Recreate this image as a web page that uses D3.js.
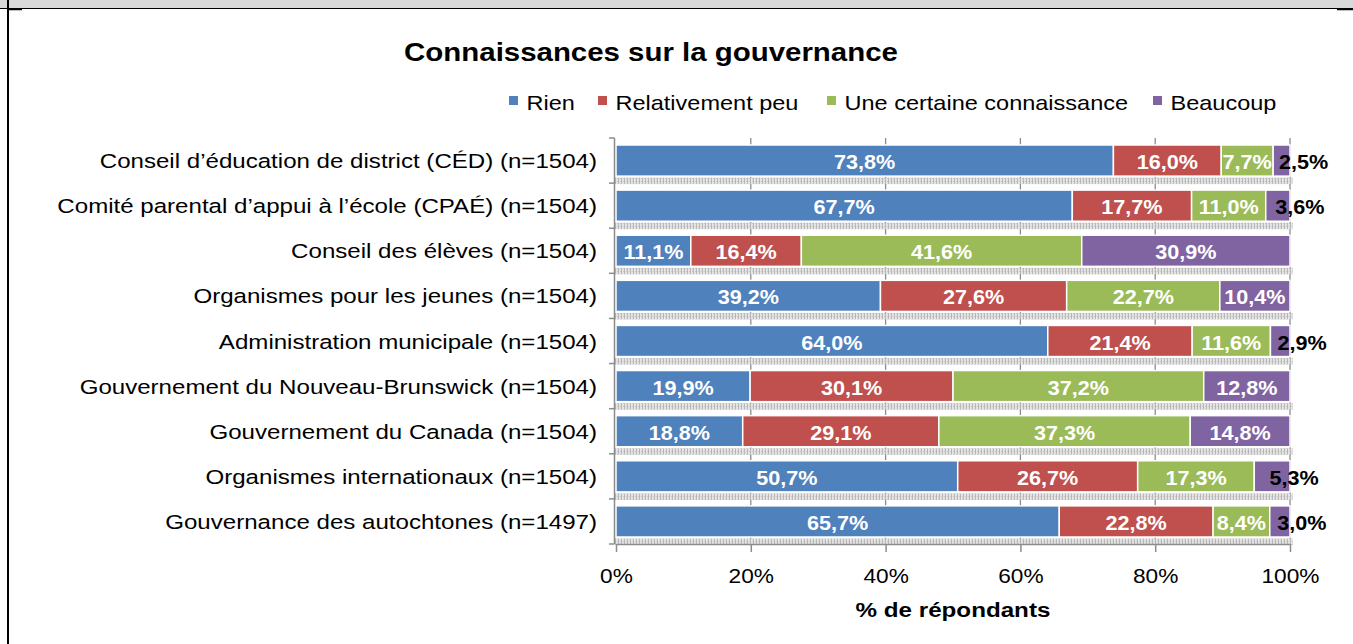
<!DOCTYPE html>
<html>
<head>
<meta charset="utf-8">
<script src="https://cdn.jsdelivr.net/npm/d3@7"></script>
<style>
  body { margin: 0; background: #fff; }
  svg { display: block; font-family: "Liberation Sans", Arial, sans-serif; }
</style>
</head>
<body>
<div class="bar_chart"></div>
<script>
// categories (top to bottom)
const categories = [
  "Conseil d’éducation de district (CÉD) (n=1504)",
  "Comité parental d’appui à l’école (CPAÉ) (n=1504)",
  "Conseil des élèves (n=1504)",
  "Organismes pour les jeunes (n=1504)",
  "Administration municipale (n=1504)",
  "Gouvernement du Nouveau-Brunswick (n=1504)",
  "Gouvernement du Canada (n=1504)",
  "Organismes internationaux (n=1504)",
  "Gouvernance des autochtones (n=1497)"
];
const seriesNames = ["Rien", "Relativement peu", "Une certaine connaissance", "Beaucoup"];
const seriesColors = ["#4F81BD", "#C0504D", "#9BBB59", "#8064A2"];

// series values, %
const rien       = [73.8, 67.7, 11.1, 39.2, 64.0, 19.9, 18.8, 50.7, 65.7];
const relPeu     = [16.0, 17.7, 16.4, 27.6, 21.4, 30.1, 29.1, 26.7, 22.8];
const certaine   = [7.7, 11.0, 41.6, 22.7, 11.6, 37.2, 37.3, 17.3, 8.4];
const beaucoup   = [2.5, 3.6, 30.9, 10.4, 2.9, 12.8, 14.8, 5.3, 3.0];

const xTicks = [0, 0.2, 0.4, 0.6, 0.8, 1];

const width = 1353, height = 644;
const plot = { left: 616, right: 1290, top: 138, bottom: 544 };

const svg = d3.select(".bar_chart").append("svg")
  .attr("width", width)
  .attr("height", height)
  .attr("viewBox", [0, 0, width, height]);

// text in the picture is a bit wider than the font, so stretch it
const place = (sel, fx, fy, sx) =>
  sel.attr("transform", function(d, i) { return `translate(${fx(d, i)},${fy(d, i)}) scale(${sx},1)`; });

// frame (grey strip at top, black borders)
svg.append("rect").attr("x", 0).attr("y", 0).attr("width", width).attr("height", 8).attr("fill", "#d9d9d9");
svg.append("line").attr("x1", 0).attr("x2", width).attr("y1", 8.5).attr("y2", 8.5).attr("stroke", "#000").attr("stroke-width", 1.2);
svg.append("line").attr("x1", 8).attr("x2", 8).attr("y1", 0).attr("y2", height).attr("stroke", "#000").attr("stroke-width", 2);
svg.append("line").attr("x1", 8).attr("x2", 22).attr("y1", 9.5).attr("y2", 9.5).attr("stroke", "#000").attr("stroke-width", 1.5);
svg.append("line").attr("x1", 1337).attr("x2", width).attr("y1", 9.5).attr("y2", 9.5).attr("stroke", "#000").attr("stroke-width", 1.5);

// texture for bar shadows
const defs = svg.append("defs");
const pat = defs.append("pattern").attr("id", "shade")
  .attr("width", 3).attr("height", 3).attr("patternUnits", "userSpaceOnUse");
pat.append("rect").attr("width", 3).attr("height", 3).attr("fill", "#e4e4e4");
pat.append("rect").attr("width", 1).attr("height", 3).attr("fill", "#b8b8b8");
pat.append("rect").attr("x", 2).attr("y", 1).attr("width", 1).attr("height", 1).attr("fill", "#c8c8c8");

// data table
const data = categories.map((c, i) => ({
  cat: c, values: [rien[i], relPeu[i], certaine[i], beaucoup[i]]
}));

const x = d3.scaleLinear().domain([0, 1]).range([plot.left, plot.right]);
const y = d3.scaleBand().domain(categories).range([plot.top, plot.bottom]).paddingInner(0.31).paddingOuter(0.155);

// title
place(svg.append("text").datum(0), () => 651, () => 61, 1.177)
  .attr("text-anchor", "middle")
  .attr("font-size", 25).attr("font-weight", "bold")
  .text("Connaissances sur la gouvernance");

// legend
const legendX = [509, 598, 827, 1153];
const legend = svg.append("g").selectAll("g").data(seriesNames).join("g")
  .attr("transform", (d, i) => `translate(${legendX[i]},110)`);
legend.append("rect").attr("x", 0).attr("y", -14).attr("width", 9).attr("height", 9)
  .attr("fill", (d, i) => seriesColors[i]);
legend.append("text").attr("transform", "translate(17.5,0) scale(1.12,1)")
  .attr("font-size", 21).text(d => d);

// gridlines
svg.append("g").selectAll("line").data(xTicks.slice(1)).join("line")
  .attr("x1", d => x(d)).attr("x2", d => x(d))
  .attr("y1", plot.top).attr("y2", plot.bottom)
  .attr("stroke", "#8c8c8c").attr("stroke-width", 1.3);

// shadows below bars
svg.append("g").selectAll("rect").data(data).join("rect")
  .attr("x", plot.left - 1).attr("y", d => y(d.cat) + y.bandwidth() + 1.5)
  .attr("width", plot.right - plot.left + 4).attr("height", 6.5)
  .attr("fill", "url(#shade)");

// stacked segments
const rows = svg.append("g").selectAll("g").data(data).join("g")
  .attr("transform", d => `translate(0,${y(d.cat)})`);

rows.each(function(d) {
  const total = d3.sum(d.values);
  let acc = 0;
  const segs = d.values.map((v, k) => {
    const s = { v, k, x0: acc / total, x1: (acc + v) / total };
    acc += v;
    return s;
  });
  const g = d3.select(this);
  g.selectAll("rect").data(segs).join("rect")
    .attr("x", s => x(s.x0)).attr("y", 0)
    .attr("width", s => x(s.x1) - x(s.x0))
    .attr("height", y.bandwidth())
    .attr("fill", s => seriesColors[s.k])
    .attr("stroke", "#fff").attr("stroke-width", 1.5);
  place(g.selectAll("text").data(segs).join("text"),
      s => {
        const cx = (x(s.x0) + x(s.x1)) / 2;
        return s.v < 6 ? cx + 22 : cx;
      },
      () => y.bandwidth() / 2 + 8.5, 1.08)
    .attr("text-anchor", "middle")
    .attr("font-size", 20).attr("font-weight", "bold")
    .attr("fill", s => s.v < 6 ? "#000" : "#fff")
    .text(s => d3.format(".1f")(s.v).replace(".", ",") + "%");
});

// left axis
const yAxis = svg.append("g");
yAxis.append("line").attr("x1", plot.left - 1.5).attr("x2", plot.left - 1.5)
  .attr("y1", plot.top).attr("y2", plot.bottom).attr("stroke", "#8c8c8c").attr("stroke-width", 1.5);
const bounds = d3.range(categories.length + 1).map(i => plot.top + i * (plot.bottom - plot.top) / categories.length);
yAxis.selectAll("line.tick").data(bounds).join("line").attr("class", "tick")
  .attr("x1", plot.left - 7).attr("x2", plot.left - 1.5)
  .attr("y1", d => d).attr("y2", d => d)
  .attr("stroke", "#8c8c8c").attr("stroke-width", 1.5);
place(yAxis.selectAll("text").data(categories).join("text"),
    () => 597, d => y(d) + y.bandwidth() / 2 + 7.5, 1.175)
  .attr("text-anchor", "end").attr("font-size", 20.5)
  .text(d => d);

// bottom axis
const xAxis = svg.append("g")
  .attr("transform", `translate(0,${plot.bottom})`)
  .call(d3.axisBottom(x).tickValues(xTicks).tickFormat(d3.format(".0%")).tickSize(8).tickSizeOuter(0));
xAxis.select(".domain").attr("stroke", "#8c8c8c").attr("stroke-width", 1.5);
xAxis.selectAll(".tick line").attr("stroke", "#8c8c8c").attr("stroke-width", 1.5);
xAxis.selectAll(".tick text")
  .attr("font-family", "Liberation Sans, Arial, sans-serif")
  .attr("font-size", 21).attr("fill", "#000").attr("dy", null).attr("y", null)
  .attr("transform", "translate(0,39) scale(1.08,1)");

place(svg.append("text").datum(0), () => (plot.left + plot.right) / 2, () => 617, 1.18)
  .attr("text-anchor", "middle")
  .attr("font-size", 20.5).attr("font-weight", "bold")
  .text("% de répondants");
</script>
</body>
</html>
